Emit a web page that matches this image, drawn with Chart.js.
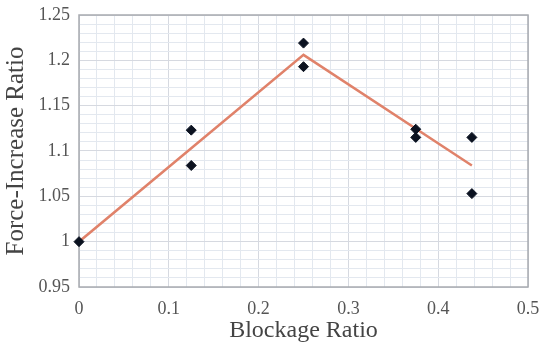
<!DOCTYPE html>
<html>
<head>
<meta charset="utf-8">
<script src="https://cdn.jsdelivr.net/npm/chart.js@4"></script>
<style>
  html, body { margin: 0; padding: 0; background: #fff; }
  #wrap { width: 542px; height: 347px; }
</style>
</head>
<body>
<div id="wrap"><canvas id="chart" width="542" height="347"></canvas></div>
<script>
// Measured points
const blockage   = [0, 0.125, 0.125, 0.25, 0.25, 0.375, 0.375, 0.4375, 0.4375];
const forceRatio = [1.0, 1.123, 1.084, 1.219, 1.193, 1.124, 1.115, 1.115, 1.053];

// Fitted line
const fitX = [0, 0.25, 0.4375];
const fitY = [1.0, 1.206, 1.084];

// Labelled ticks
const xTicks = [0, 0.1, 0.2, 0.3, 0.4, 0.5];
const yTicks = [0.95, 1, 1.05, 1.1, 1.15, 1.2, 1.25];

const serif = "'Liberation Serif', 'Times New Roman', serif";

// minor grid every 0.02 on x, 0.01 on y
function minorTicks(min, max, step) {
    const out = [];
    const n = Math.round((max - min) / step);
    for (let i = 0; i <= n; i++) out.push({ value: +(min + i * step).toFixed(4) });
    return out;
}
const isMajor = (v, list) => list.some(t => Math.abs(t - v) < 1e-6);

const frame = {
    id: 'frame',
    beforeDatasetsDraw(chart) {
        const { ctx, chartArea: a } = chart;
        ctx.save();
        ctx.strokeStyle = '#a8abb0';
        ctx.lineWidth = 1.5;
        ctx.strokeRect(a.left, a.top, a.right - a.left, a.bottom - a.top);
        ctx.restore();
    }
};

new Chart(document.getElementById('chart'), {
    type: 'scatter',
    data: {
        datasets: [{
            label: 'Measured',
            data: blockage.map((x, i) => ({ x, y: forceRatio[i] })),
            pointStyle: 'rectRot',
            pointRadius: 5,
            pointBackgroundColor: '#0b1220',
            pointBorderColor: '#0b1220',
            showLine: false,
            clip: false
        }, {
            label: 'Fit',
            data: fitX.map((x, i) => ({ x, y: fitY[i] })),
            showLine: true,
            borderColor: '#e0826a',
            borderWidth: 2.5,
            pointRadius: 0,
            tension: 0
        }]
    },
    options: {
        responsive: false,
        animation: false,
        layout: { padding: { left: 0, right: 14, top: 15, bottom: 0 } },
        plugins: { legend: { display: false }, tooltip: { enabled: false } },
        scales: {
            x: {
                type: 'linear', min: 0, max: 0.5,
                afterBuildTicks: s => { s.ticks = minorTicks(0, 0.5, 0.02); },
                afterFit: s => { s.height = 60; s.paddingLeft = 0; s.paddingRight = 0; },
                grid: {
                    color: c => isMajor(c.tick.value, xTicks) ? '#d6d9e0' : '#e3e8ef',
                    lineWidth: 1, drawTicks: false
                },
                border: { display: false },
                ticks: {
                    autoSkip: false, maxRotation: 0, padding: 11,
                    color: '#555', font: { family: serif, size: 18 },
                    callback: v => isMajor(v, xTicks) ? String(+v.toFixed(2)) : ''
                },
                title: {
                    display: true, text: 'Blockage Ratio', color: '#444',
                    font: { family: serif, size: 24 }, padding: { top: 0, bottom: 2 }
                }
            },
            y: {
                type: 'linear', min: 0.95, max: 1.25,
                afterBuildTicks: s => { s.ticks = minorTicks(0.95, 1.25, 0.01); },
                afterFit: s => { s.width = 79; s.paddingTop = 0; s.paddingBottom = 0; },
                grid: {
                    color: c => isMajor(c.tick.value, yTicks) ? '#d6d9e0' : '#e3e8ef',
                    lineWidth: 1, drawTicks: false
                },
                border: { display: false },
                ticks: {
                    autoSkip: false, padding: 9,
                    color: '#555', font: { family: serif, size: 18 },
                    callback: v => isMajor(v, yTicks) ? String(+v.toFixed(2)) : ''
                },
                title: {
                    display: true, text: 'Force-Increase Ratio', color: '#444',
                    font: { family: serif, size: 25 }, padding: { top: 1, bottom: 0 }
                }
            }
        }
    },
    plugins: [frame]
});
</script>
</body>
</html>
